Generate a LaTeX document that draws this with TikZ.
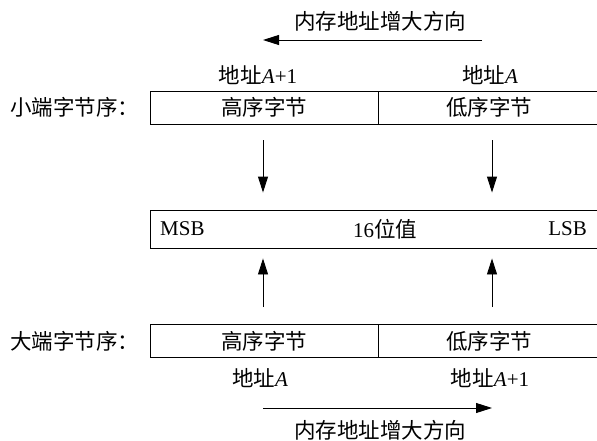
\documentclass[tikz,border=0pt]{standalone}
\usepackage{fontspec}
\setmainfont{Liberation Serif}
\newfontfamily\cjk{Noto Sans CJK SC}
\usetikzlibrary{arrows.meta}
\newcommand{\lat}{\rmfamily\fontsize{21}{24}\selectfont}
\newcommand{\addr}[1]{地址{\lat\textit{A}#1}}
\tikzset{
  lbl/.style={font=\fontsize{21.5}{24}\selectfont\cjk, inner sep=0pt},
  cell/.style={lbl, draw, line width=0.9pt, minimum height=33pt},
  dirarrow/.style={-{Triangle[length=16pt,width=10pt]}, line width=0.9pt},
}
\begin{document}
\begin{tikzpicture}[x=1pt,y=-1pt]
  \useasboundingbox (0,0) rectangle (597,441);
  % little endian
  \node[lbl] (uptitle) at (380,21) {内存地址增大方向};
  \coordinate (upR) at (482,40);
  \coordinate (upL) at (263,40);
  \draw[dirarrow] (upR) -- (upL);
  \node[lbl] (la1) at (258,75) {\addr{+1}};
  \node[lbl] (la0) at (490,75) {\addr{}};
  \node[lbl,anchor=west] (little) at (10,107.5) {小端字节序：};
  \node[cell,minimum width=228pt] (lhi) at (264,107.5) {高序字节};
  \node[cell,minimum width=222pt] (llo) at (489,107.5) {低序字节};
  % the 16-bit value
  \node[cell,minimum width=450pt,minimum height=38pt] (val) at (375,229) {};
  \node[lbl,anchor=west,font=\lat] (msb) at (160,229) {MSB};
  \node[lbl] (v16) at (385,229) {{\lat 16}位值};
  \node[lbl,anchor=east,font=\lat] (lsb) at (587,229) {LSB};
  % big endian
  \node[lbl,anchor=west] (big) at (10,341) {大端字节序：};
  \node[cell,minimum width=228pt] (bhi) at (264,341) {高序字节};
  \node[cell,minimum width=222pt] (blo) at (489,341) {低序字节};
  \node[lbl] (ba0) at (260,378) {\addr{}};
  \node[lbl] (ba1) at (490,378) {\addr{+1}};
  \coordinate (dnL) at (263,408);
  \coordinate (dnR) at (492,408);
  \draw[dirarrow] (dnL) -- (dnR);
  \node[lbl] (dntitle) at (380,430) {内存地址增大方向};
  % arrows to the value
  \draw[dirarrow] ([yshift=-16pt]lhi.south -| upL) -- ([yshift=17pt]val.north -| upL);
  \draw[dirarrow] ([yshift=-16pt]llo.south -| dnR) -- ([yshift=17pt]val.north -| dnR);
  \draw[dirarrow] ([yshift=17pt]bhi.north -| upL) -- ([yshift=-10pt]val.south -| upL);
  \draw[dirarrow] ([yshift=17pt]blo.north -| dnR) -- ([yshift=-10pt]val.south -| dnR);
\end{tikzpicture}
\end{document}
